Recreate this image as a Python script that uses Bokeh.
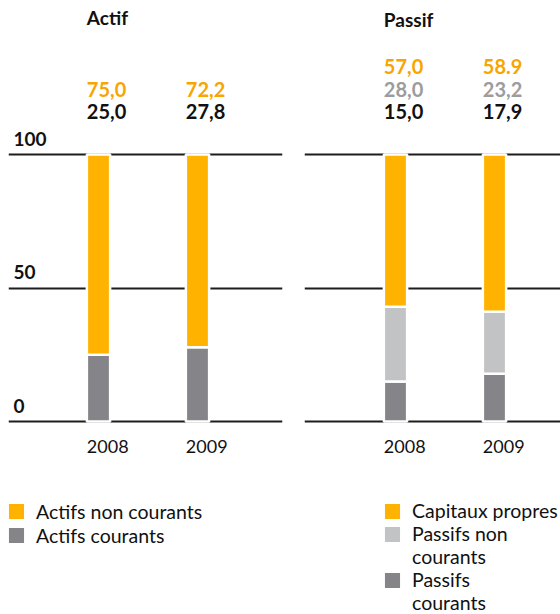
from bokeh.plotting import figure
from bokeh.layouts import row
from bokeh.models import (ColumnDataSource, Range1d, Grid, FixedTicker, Legend,
                          LegendItem, Label)
from bokeh.core.properties import value
from bokeh.embed import file_html
from bokeh.resources import INLINE

# ---------------- data ----------------
years = ["2008", "2009"]

actif_non_courants = [75.0, 72.2]
actif_courants = [25.0, 27.8]
actif_non_courants_labels = ["75,0", "72,2"]
actif_courants_labels = ["25,0", "27,8"]

passif_capitaux = [57.0, 58.9]
passif_non_courants = [28.0, 23.2]
passif_courants = [15.0, 17.9]
passif_capitaux_labels = ["57,0", "58.9"]
passif_non_courants_labels = ["28,0", "23,2"]
passif_courants_labels = ["15,0", "17,9"]

y_ticks = [0, 50, 100]
y_tick_labels = ["0", "50", "100"]

titles = ["Actif", "Passif"]
# each legend entry may wrap onto a second line (no swatch on continuation lines)
actif_legend = [["Actifs non courants"], ["Actifs courants"]]
passif_legend = [["Capitaux propres"], ["Passifs non", "courants"], ["Passifs", "courants"]]

# ---------------- style ----------------
ORANGE = "#FFB300"
DARK = "#858489"
LIGHT = "#C2C3C5"
T_ORANGE = "#F8A500"
T_GRAY = "#9C9C9E"
T_BLACK = "#111111"
GRID = "#1d1d1b"
FONT = "Lato"

H = 614
PX_PER_UNIT = 2.67          # vertical scale
ZERO_Y = 421                # pixel row of 0 inside the canvas
PX_PER_CAT = 99.0
BAR_W = 0.235


def make_panel(width, border_left, border_right, first_center_px, stack_names,
               stack_vals, colors, label_rows, title, legend_labels,
               legend_order, legend_loc, legend_row_h, title_offset):
    frame_w = width - border_left - border_right
    x0 = -first_center_px / PX_PER_CAT
    y0 = -(H - ZERO_Y) / PX_PER_UNIT
    p = figure(width=width, height=H, output_backend="svg", toolbar_location=None,
               x_axis_type=None, y_axis_type=None,
               x_range=Range1d(x0, x0 + frame_w / PX_PER_CAT),
               y_range=Range1d(y0, y0 + H / PX_PER_UNIT),
               min_border_left=border_left, min_border_right=border_right,
               min_border_top=0, min_border_bottom=0)
    p.outline_line_color = None
    p.background_fill_color = "white"
    p.add_layout(Grid(dimension=1, ticker=FixedTicker(ticks=y_ticks),
                      grid_line_color=GRID, grid_line_width=2))

    xs = list(range(len(years)))
    data = {"x": xs, "left": [x - BAR_W / 2 for x in xs]}
    for n, v in zip(stack_names, stack_vals):
        data[n] = v
    totals = [sum(t) for t in zip(*stack_vals)]
    data["total"] = totals
    data["zero"] = [0] * len(xs)
    data["year"] = years
    src = ColumnDataSource(data)

    rends = p.vbar_stack(stack_names, x="x", width=BAR_W, color=colors,
                         line_color="white", line_width=2.5, source=src)

    # value labels above bars
    for i, (labels, col) in enumerate(label_rows):
        s = ColumnDataSource(dict(x=data["left"], y=totals, t=labels))
        p.text(x="x", y="y", text="t", source=s, text_color=col,
               text_font=value(FONT), text_font_style="bold",
               text_font_size="20px", text_baseline="alphabetic",
               text_align="left", y_offset=-43 - 22.5 * i)

    # years
    p.text(x="left", y="zero", text="year", source=src, text_color=T_BLACK,
           text_font=value(FONT), text_font_size="18px",
           text_baseline="alphabetic", text_align="left", y_offset=25)

    # title
    p.add_layout(Label(x=data["left"][0], y=totals[0], text=title,
                       y_offset=title_offset, text_font=FONT,
                       text_font_style="bold", text_font_size="19px",
                       text_color=T_BLACK, text_baseline="alphabetic"))

    # legend (continuation lines get an invisible swatch)
    blank = p.vbar(x=[], top=[], width=BAR_W, fill_alpha=0, line_alpha=0)
    items = []
    for k, j in enumerate(legend_order):
        for li, line in enumerate(legend_labels[k]):
            items.append(LegendItem(label=line,
                                    renderers=[rends[j] if li == 0 else blank]))
    leg = Legend(items=items, location=legend_loc, orientation="vertical",
                 glyph_width=22, glyph_height=22, label_standoff=9,
                 label_text_font=FONT, label_text_font_size="19.5px",
                 label_text_color=T_BLACK, label_height=legend_row_h,
                 spacing=0, padding=0, margin=0, border_line_alpha=0,
                 background_fill_alpha=0)
    p.add_layout(leg)
    return p, x0


# ---------------- Actif ----------------
pa, xa0 = make_panel(
    width=304, border_left=8, border_right=22, first_center_px=90,
    stack_names=["courants", "non_courants"],
    stack_vals=[actif_courants, actif_non_courants],
    colors=[DARK, ORANGE],
    label_rows=[(actif_courants_labels, T_BLACK),
                (actif_non_courants_labels, T_ORANGE)],
    title=titles[0], legend_labels=actif_legend, legend_order=[1, 0],
    legend_loc=(-3, 67), legend_row_h=24, title_offset=137)

# y tick labels on the left panel
tick_src = ColumnDataSource(dict(x=[xa0] * len(y_ticks), y=y_ticks, t=y_tick_labels))
pa.text(x="x", y="y", text="t", source=tick_src, text_color=T_BLACK,
        text_font=value(FONT), text_font_style="bold", text_font_size="19px",
        text_baseline="alphabetic", text_align="left", x_offset=5, y_offset=-16)

# ---------------- Passif ----------------
pp, _ = make_panel(
    width=256, border_left=0, border_right=0, first_center_px=91,
    stack_names=["courants", "non_courants", "capitaux"],
    stack_vals=[passif_courants, passif_non_courants, passif_capitaux],
    colors=[DARK, LIGHT, ORANGE],
    label_rows=[(passif_courants_labels, T_BLACK),
                (passif_non_courants_labels, T_GRAY),
                (passif_capitaux_labels, T_ORANGE)],
    title=titles[1], legend_labels=passif_legend, legend_order=[2, 1, 0],
    legend_loc=(77, 0), legend_row_h=23, title_offset=135)

layout = row(pa, pp)
open("out.html", "w").write(file_html(layout, INLINE))
